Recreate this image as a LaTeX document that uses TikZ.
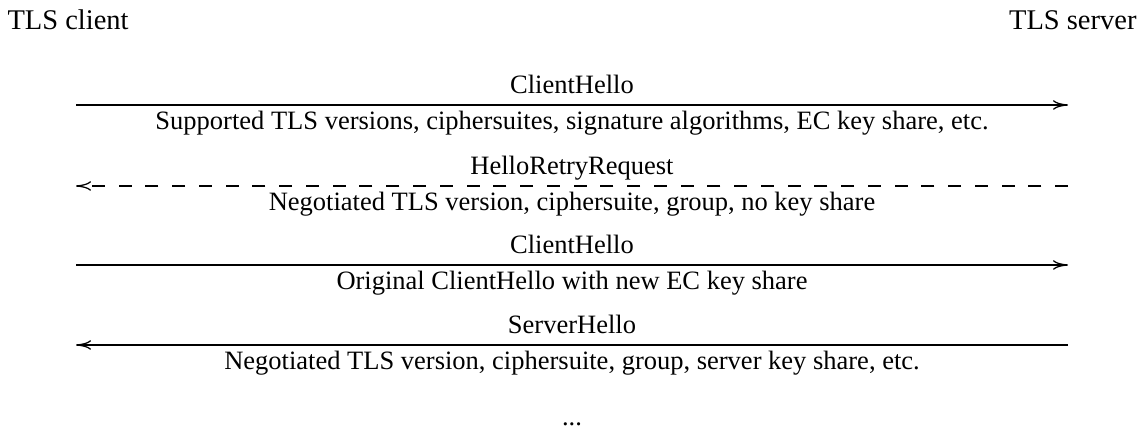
\documentclass[tikz,border=0pt]{standalone}
\usepackage{fontspec}
\setmainfont{Liberation Serif}
\usetikzlibrary{arrows.meta}

\tikzset{
  party/.style={inner sep=0pt, font=\fontsize{11.4}{14}\selectfont},
  msg/.style={line width=0.5pt, -{To[length=6pt,width=3.8pt]}},
  reply/.style={msg, dash pattern=on 5.2pt off 5.5pt},
  msgtext/.style={inner sep=0pt, anchor=base, font=\fontsize{10.6}{13}\selectfont},
  msgname/.style={msgtext, yshift=4.4pt},
  msginfo/.style={msgtext, yshift=-9.8pt}
}

\begin{document}
\begin{tikzpicture}[x=0.4pt,y=-0.4pt]
  \useasboundingbox (0,0) rectangle (1143,430);
  \node[party, anchor=base west] (client) at (7,30) {TLS client};
  \node[party, anchor=base east] (server) at (1137,30) {TLS server};

  % message ends
  \coordinate (c1) at (76,105);  \coordinate (s1) at (1068,105);
  \coordinate (c2) at (76,186);  \coordinate (s2) at (1068,186);
  \coordinate (c3) at (76,265);  \coordinate (s3) at (1068,265);
  \coordinate (c4) at (76,345);  \coordinate (s4) at (1068,345);

  \draw[msg] (c1) -- (s1)
    node[msgname, pos=0.5] (m1) {ClientHello}
    node[msginfo, pos=0.5] (i1) {Supported TLS versions, ciphersuites, signature algorithms, EC key share, etc.};
  \draw[reply] (s2) -- (c2)
    node[msgname, pos=0.5] (m2) {HelloRetryRequest}
    node[msginfo, pos=0.5] (i2) {Negotiated TLS version, ciphersuite, group, no key share};
  \draw[msg] (c3) -- (s3)
    node[msgname, pos=0.5] (m3) {ClientHello}
    node[msginfo, pos=0.5] (i3) {Original ClientHello with new EC key share};
  \draw[msg] (s4) -- (c4)
    node[msgname, pos=0.5] (m4) {ServerHello}
    node[msginfo, pos=0.5] (i4) {Negotiated TLS version, ciphersuite, group, server key share, etc.};

  \node[msgtext] (more) at (572,426) {...};
\end{tikzpicture}
\end{document}
